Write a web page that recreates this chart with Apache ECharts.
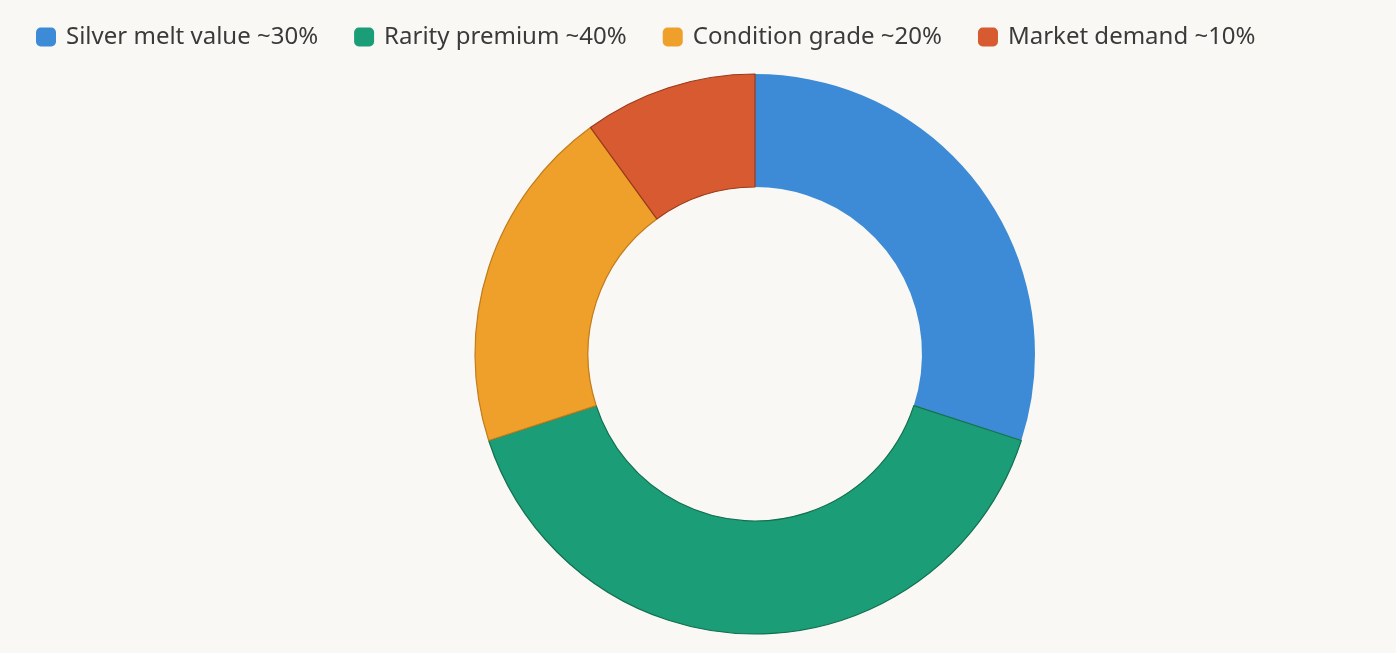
<!DOCTYPE html>
<html>
<head>
<meta charset="utf-8">
<script src="https://cdn.jsdelivr.net/npm/echarts@6/dist/echarts.min.js"></script>
<style>
html,body{margin:0;padding:0;background:#f9f8f5;}
#chart{width:1396px;height:653px;}
</style>
</head>
<body>
<div id="chart"></div>
<script>
const categories = ["Silver melt value ~30%", "Rarity premium ~40%", "Condition grade ~20%", "Market demand ~10%"];
const values = [30, 40, 20, 10];
const colors = ["#3d8bd6", "#1b9e77", "#efa02a", "#d85a31"];
const borderColors = ["#3d8bd6", "#13704f", "#c27c1c", "#9a3a1b"];

const chart = echarts.init(document.getElementById('chart'));
chart.setOption({
  backgroundColor: '#f9f8f5',
  animation: false,
  legend: {
    top: 20,
    left: 31,
    itemWidth: 20,
    itemHeight: 19,
    itemGap: 36,
    icon: 'roundRect',
    itemStyle: { borderWidth: 0 },
    textStyle: { fontFamily: 'Noto Sans', fontSize: 24, color: '#3a3a3a', padding: [0, 0, 0, 5] },
    data: categories
  },
  series: [{
    type: 'pie',
    center: [755, 354],
    radius: [167, 280],
    startAngle: 90,
    clockwise: true,
    label: { show: false },
    labelLine: { show: false },
    data: categories.map((c, i) => ({
      name: c,
      value: values[i],
      itemStyle: { color: colors[i], borderColor: borderColors[i], borderWidth: i === 0 ? 0 : 1.2 }
    }))
  }]
});
</script>
</body>
</html>
